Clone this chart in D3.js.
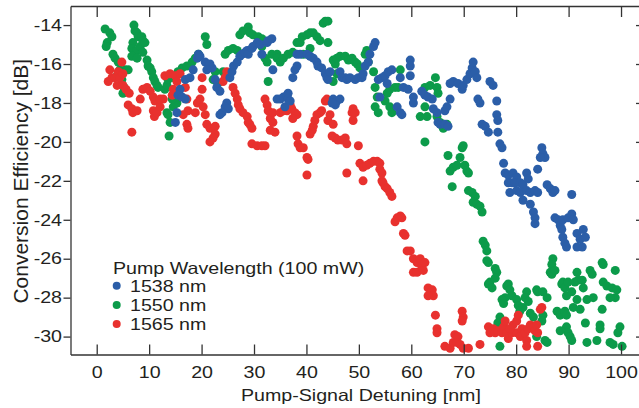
<!DOCTYPE html>
<html>
<head>
<meta charset="utf-8">
<script src="https://cdn.jsdelivr.net/npm/d3@7"></script>
<style>
  html, body { margin: 0; padding: 0; background: #ffffff; }
  svg { display: block; }
  text { font-family: "Liberation Sans", Arial, Helvetica, sans-serif; fill: #231f20; }
</style>
</head>
<body>
<svg id="chart" width="639" height="408"></svg>
<script>
// ---------- data ----------
const seriesNames = ["1538 nm", "1550 nm", "1565 nm"];
const seriesColors = ["#2b5ea8", "#0c9b4a", "#e8312e"];
const legendTitle = "Pump Wavelength (100 mW)";
const xTicks = [0, 10, 20, 30, 40, 50, 60, 70, 80, 90, 100];
const yTicks = [-30, -28, -26, -24, -22, -20, -18, -16, -14];
const xLabel = "Pump-Signal Detuning [nm]";
const yLabel = "Conversion Efficiency [dB]";

// [detuning nm, efficiency dB]
const data1550 = [
[1.6,-14.2],[2.5,-14.4],[2.9,-14.6],[2,-14.9],[1.8,-15.1],[3.1,-15.5],[3.5,-15.7],[4.1,-15.9],[4.4,-16.3],[3.9,-16.6],[4.8,-16.8],[5.2,-17.2],[5,-17.5],
[7.1,-14],[7.3,-14.3],[7.7,-14.4],[7.9,-14.6],[8.6,-14.6],[8.8,-14.8],[6.9,-14.9],[6.7,-15.2],[7.7,-15.3],[8.3,-15.1],[8.8,-15.4],[9.2,-14.9],[6.7,-15.6],[7.7,-15.7],[9.6,-15.8],[9.8,-16.1],[10.2,-16.2],[10.5,-16.4],[10.8,-16.7],[11.1,-16.9],[11.5,-17.1],[11.7,-17.2],[13,-17.3],[13.4,-17.1],[13.6,-16.8],[14.6,-16.7],[15.5,-16.4],[16.3,-16.2],[17.2,-16.1],[18.2,-15.9],[18.8,-15.7],[19.4,-15.5],
[13.4,-18.5],[13.6,-18.6],[14,-19],[13.8,-19.7],[14.6,-18.2],[15.3,-18],[14.4,-17.8],[5.4,-16.3],[6,-16.3],
[20.7,-14.6],[21,-15],[22.6,-16.4],[22.2,-16.8],[23.1,-17],[24.1,-16.4],[24.5,-15.5],[25.1,-15.3],[26,-15.2],[26.8,-15.3],[27.3,-14.5],[27.9,-14.3],[28.9,-14.1],[29.2,-14.4],[29.8,-14.5],[30.8,-14.6],[31.5,-14.7],[31.8,-14.8],[31.5,-15.1],[32.1,-15.7],[32.5,-15.9],[32.7,-16.9],[33.4,-15.5],[34.4,-15.5],[34.4,-15.7],[35,-15.9],[35.6,-15.7],[36.5,-15.5],[37.4,-15.4],[38.2,-14.9],[38.8,-14.9],[39.2,-14.6],[40.1,-14.5],[40.7,-14.4],[41.3,-14.4],[42,-14.6],[42.6,-14.8],[43.2,-13.9],[43.6,-13.8],[44.1,-13.8],[44.1,-14.9],[40.7,-15.2],[40.3,-15.5],[39.4,-15.5],
[45.1,-15.8],[45.5,-16],[45.8,-15.7],[46.4,-15.6],[47.4,-15.6],[48,-15.8],[48.7,-15.7],[49.3,-15.9],[49.7,-16],[50.2,-16.2],[45.8,-16.5],[45.1,-16.9],[51.5,-15.3],[51.2,-15.5],[51.8,-15.9],[52.8,-16.4],[53.1,-17.2],[53.5,-17.7],[53.1,-18.2],[53.7,-18.5],[55,-17.9],[55.4,-17.5],[55.9,-17.3],[56.9,-17.2],[57.5,-17.2],[57.9,-16.3],[55.9,-18.2],[56.3,-18.5],[61.7,-18.7],
[62.6,-17.2],[63.6,-17.1],[64.6,-16.7],[64.9,-17.2],[65.1,-17.5],[62.6,-18.2],[63,-18.7],[64.9,-18.7],[65.5,-19],[66.1,-19.3],[66.8,-19.1],[62.6,-20],[67,-20.7],[67.4,-21.5],[68,-21.3],[68.7,-21.2],[69.3,-20.8],[69.7,-20.3],[69.9,-20.2],[70.2,-21.2],[70.6,-21.5],[70.9,-21.6],[67.8,-22.3],[70.9,-22.5],[71.6,-22.6],[72.2,-22.8],
[71.8,-23.1],[72.5,-23.2],[73.1,-23.3],[73.5,-23.6],[73.7,-25.1],[74.1,-25.3],[74.4,-25.6],[74.4,-26.1],[74.7,-26.2],[76,-26.5],[76.3,-26.7],[76,-27],[75,-27.2],[74.7,-27.3],[75.4,-27.5],[78.5,-27.3],[78.2,-27.4],[78.8,-27.6],[79.2,-27.9],[77.9,-28],[77.3,-28.1],[77.6,-28.3],[80.1,-28.1],[80.4,-28.4],[81.3,-28.5],[82,-27.7],[81.7,-28],[82.3,-28.2],[80.7,-28.7],[76.9,-29],[76.5,-29.3],[76.9,-30.5],[82.7,-28.8],[83.3,-29],[83.9,-27.6],[84.1,-27.7],[85.1,-27.7],[85.9,-28],[85.1,-28.9],[84.9,-29.2],[85.5,-30.2],[85.9,-30.3],[83.9,-30],[87,-26],[86.8,-26.3],[86.5,-26.7],[86.8,-26.8],[87.4,-26.6],[87.8,-28.7],[88.4,-28.9],[89.3,-28.7],[89.6,-28.9],[88.7,-27.3],[88.9,-27.2],[89.3,-27.5],[89.9,-27.2],[89.6,-27.9],[90.6,-27.7],[91.2,-27.2],[91.6,-26.7],[91.8,-27.1],[92.6,-27.1],[92.8,-27.5],[93.5,-28.1],[91.6,-28.1],[90.9,-28.5],[92.2,-28.6],[89.6,-29.5],[89.9,-29.8],[90.3,-30],[90.6,-30.2],[88.4,-29.7],[93.2,-29.3],[93.5,-30.3],[94.1,-26.6],[94.5,-26.8],[94.7,-28],[95.4,-30.2],[96,-29.4],[96.4,-28.6],[96,-29.6],[96.4,-26.2],[96.6,-26.3],[96.6,-27.2],[97.3,-27.4],[98.3,-27.5],[98.9,-26.6],[99.2,-27.6],[98.9,-28],[97.9,-28],[97.9,-30.3],[98.5,-30.4],[99.8,-29.5],[99.4,-29.8],[100.2,-30.5]
];

const data1565 = [
[4.8,-15.9],[2.5,-16.3],[2.9,-16.7],[2.2,-16.9],[3.5,-16.7],[4.1,-16.4],[4.4,-16.7],[5,-16.5],[3.9,-17.1],[5,-17.1],[5.6,-17.3],[6.2,-17.5],[6.7,-19.5],[6,-18.1],[6.7,-18.3],[6.9,-18.5],[7.7,-18.4],[8.3,-17.8],[8.8,-17.3],[9.6,-17.2],[10.2,-17.4],[10.8,-17.7],[11.1,-17.9],[10.8,-18.4],[11,-18.7],[11.5,-18.5],[12.1,-18.2],[12.7,-17.8],[12.1,-17.8],[13,-16.6],[14,-16.5],[15,-16.6],[15.9,-16.5],[15.3,-16.9],[14.6,-17.3],[14.4,-17.6],[16.9,-17.2],[17.2,-17.8],[17.4,-18.4],[16.5,-18.6],[17.2,-19.1],[17.4,-19.3],[18.8,-18.5],[19.2,-18],
[20.1,-16.7],[20.1,-17.3],[19.7,-17.8],[20.3,-18.2],[20.7,-18.6],[21,-19.1],[21.6,-19.3],[22.6,-19.2],[22.6,-19.6],[22.2,-19.8],[21.6,-20],[24.5,-16.7],[24.1,-16.9],[24.8,-16.4],[26,-17.2],[26.4,-17.5],[26.8,-17.8],[27,-18.1],[27.3,-18.3],[27.9,-18.5],[28.7,-18.7],[28.9,-19],[29.2,-19.1],[29.6,-19.3],[29.6,-20.1],[30.6,-20.2],[31.5,-20.2],[32.1,-20.2],[32.1,-17.8],[32.5,-18.1],[32.7,-18.4],[33.1,-18.8],[33.6,-19],[34,-19.5],[33.1,-19.4],[33.6,-18.5],[35,-18.5],[35.6,-18.4],[36.3,-18.4],[36.9,-18.1],[37.2,-18.3],[37.8,-18.5],[38.2,-18.6],[37.4,-18.8],[38.2,-19.7],[38.4,-20.1],[38.8,-20.3],[39.4,-20.3],[40.1,-20.8],[40.3,-20.9],[40.1,-21.7],[40.7,-19.6],[41.1,-19.4],[41.3,-19.2],[41.6,-18.9],[42,-18.6],[42.6,-18.5],[42.9,-18.4],[43.6,-17.9],[43.9,-17.8],[44.1,-18.9],[44.5,-18.6],[45.1,-19.1],[44.9,-19.7],[45.5,-19.8],[46,-19.9],[46.8,-19.9],[47.4,-19.8],[47.7,-20.1],[48.7,-18.5],[48.9,-18.3],[49.3,-18.5],[48.9,-18.9],[49.9,-20.2],[47.7,-21.6],[50.2,-21.1],[50.8,-21.3],[51.5,-21.2],[52.1,-21.1],[52.8,-21],[53.5,-21],[54,-21.1],[54,-21.4],[54.4,-21.6],[50.8,-22],[54.4,-22],[54.6,-22.1],[55,-22.3],[55.4,-22.4],[55.9,-22.6],[56.3,-22.8],
[57.9,-23.8],[58.2,-23.9],[57.3,-23.9],[56.9,-24.1],[58.5,-24.7],[58.8,-24.8],[59.2,-25.6],[59.8,-25.6],[60.4,-26],[61.1,-26.2],[60.4,-26.7],[61.1,-26.7],
[61.7,-26],[62,-26.4],[62.3,-26.6],[62.6,-26.2],[63.2,-27.5],[64,-27.6],[64.2,-27.9],[63.2,-27.9],[64.6,-28.9],[64.9,-29.6],[64.9,-29.8],[66.4,-30.5],[67.4,-30.6],[68,-30.3],[68.3,-29.9],[68.9,-30],[68.7,-30.3],[69.3,-30.4],[69.9,-30.6],[70.9,-30.6],[69.7,-28.7],[69.9,-29],[69.7,-29.2],[73.1,-30.4],[74.7,-29.5],[75,-29.8],[75.6,-29.6],[76,-29.8],[76.5,-29.7],[77.3,-29.8],[77.6,-29.5],[77.9,-29.2],[78.2,-29.8],[78.5,-30.1],[79.2,-29.8],[79.4,-29.4],[80.1,-29.2],[80.4,-28.9],[80.1,-29.8],[80.8,-30],[81.1,-29.6],[82,-30.2],[81.7,-29.8],[82.3,-29.6],[82.7,-29.4],[83.3,-29.5],[83.6,-29.7],[83.9,-29.4],[84.9,-28.5],[84.6,-28.6],[84.1,-29.8],[82,-30.5],[78.8,-29.6],[84.1,-30.5]
];

const data1538 = [
[15.9,-17.3],[15.5,-17.6],[16.3,-17.7],[16.9,-17.8],[15.3,-18.5],[15,-19],[16.9,-16.8],[17.8,-16.7],[18.4,-16.3],[19.2,-15.7],[19.4,-15.5],
[19.7,-15.6],[20.7,-15.9],[21.6,-16],[22,-16.2],[21,-16.3],[22.6,-16.8],[22.9,-17.2],[23.5,-17.4],[24.8,-18],[24.5,-18.2],[25.1,-18.3],[23.9,-18.5],[23.5,-18.6],[25.4,-16.7],[25.8,-16.4],[26.1,-16.1],[26.8,-15.9],[27.3,-15.6],[27.7,-15.5],[28.3,-15.4],[28.7,-15.3],[28.9,-15.5],[29.6,-15.2],[29.8,-15.1],[30.6,-14.9],[31.2,-15],[31.5,-15.5],[32.5,-14.9],[32.7,-14.8],[33.4,-14.7],[33.6,-16.3],[34.4,-17.8],[35,-17.8],[35.6,-17.7],[36.3,-17.6],[36.5,-17.5],[36.5,-17.8],[35.9,-18.2],[36.9,-17.9],[37.4,-16.7],[37.8,-16.3],[38.2,-16.1],[38.2,-15.5],[38.8,-15.5],[40.1,-15.5],[40.7,-15.6],[41.3,-15.7],[42,-15.9],[42.2,-16.1],[42.9,-16.2],[43.6,-16.5],[43.9,-16.7],[44.1,-16.8],[44.5,-16.4],[45.1,-17.8],[45.8,-17.9],[46.4,-17.8],[45.5,-18.1],[44.9,-18],[46.4,-16.4],[46.8,-16.7],[47.4,-16.7],[47.7,-16.8],[48.3,-16.7],[49.3,-16.8],[49.9,-16.7],[50.6,-16.7],[50.8,-16.5],[51.2,-16.1],[51.8,-15.9],[52.1,-15.5],[52.8,-15.1],[53.1,-14.9],[53.7,-16.8],[54.4,-16.7],[55,-16.6],[55.6,-16.4],[56.3,-16.3],[55.4,-17],[54,-17.7],[57.3,-18.2],[57.9,-18.5],[58.2,-18.6],[57.9,-16.7],[58.5,-17.2],[59.4,-17.3],[59.8,-15.8],[59.8,-16.1],[59.8,-16.6],[60.4,-17.7],[60.4,-18],
[62,-17.4],[62.6,-17.6],[63.2,-17.7],[64,-17.8],[64.2,-18.3],[64.9,-18.5],[65.1,-19],[65.5,-19.1],[66.4,-19.1],[67,-19.2],[66.4,-18.4],[66.8,-18.2],[67.4,-17.8],[67.4,-17],[68,-16.9],[68.9,-17],[69.7,-17.3],[69.9,-17.1],[70.6,-16.8],[71.2,-16.5],[71.6,-16.2],[71.8,-15.9],[72.2,-16.4],[72.5,-16.7],[72.7,-17.8],[73.1,-18],[75,-16.9],[75.6,-17.1],[76.3,-17.9],[76.3,-18.6],[76.5,-18.9],[73.5,-19.1],[74.1,-19.2],[74.7,-19.5],[76.5,-19.5],[76.9,-20.1],[77.3,-20.3],[77.6,-21.1],[77.9,-21.6],[78.5,-21.7],[79.4,-21.6],[80.1,-21.8],[78.5,-22.1],[79.2,-22.1],[79.8,-22.1],[80.8,-22.1],[81.3,-22.2],[82,-21.6],[82.3,-21.9],[78.8,-22.6],[80.1,-22.5],[80.8,-22.6],[82,-22.5],[82.7,-22.6],[83.6,-22.5],[84.1,-22.6],[84.1,-21.4],[84.9,-20.3],[85.1,-20.6],[85.5,-20.8],[84.6,-20.8],[85.9,-22.2],[86.5,-22.4],[87,-22.6],[87.4,-22.5],[90.6,-22.7],
[81.3,-23],[82.7,-23.2],[83.3,-23.6],[83.6,-23.9],[83.6,-24.2],[87.4,-23.9],[88,-24],[88.4,-24.3],[88.7,-24.5],[88.9,-24.9],[89.3,-25.2],[89.6,-25.4],[88.9,-24],[89.9,-23.9],[90.6,-23.7],[90.9,-24],[91.6,-24.7],[92.2,-25],[92.6,-25.4],[92.8,-24.5],[93.2,-24.9],[91.6,-25.4]
];

// ---------- layout ----------
const svg = d3.select("#chart");
const L = 70.5, R = 642, T = 6, B = 354.5;
const SX = 1.19;           // horizontal text stretch seen in reference
const FS = 16.5;

const x = d3.scaleLinear().domain([-5, 104]).range([L, R]);
const y = d3.scaleLinear().domain([-30.92, -13.02]).range([B, T]);

// draw points: green bottom, red, blue on top
const drawOrder = [
  {d: data1550, c: seriesColors[1]},
  {d: data1565, c: seriesColors[2]},
  {d: data1538, c: seriesColors[0]}
];
const pts = svg.append("g");
drawOrder.forEach(s => {
  pts.append("g").selectAll("circle").data(s.d).join("circle")
    .attr("cx", d => x(d[0])).attr("cy", d => y(d[1]))
    .attr("r", 4.5).attr("fill", s.c);
});

// axes
function styleAxis(g) {
  g.selectAll("path.domain").attr("stroke", "#333").attr("stroke-width", 1.3);
  g.selectAll(".tick line").attr("stroke", "#333").attr("stroke-width", 1.3);
}
const gB = svg.append("g").attr("transform", `translate(0,${B})`)
  .call(d3.axisBottom(x).tickValues(xTicks).tickSizeInner(-10).tickSizeOuter(0).tickPadding(12).tickFormat(d => String(d)));
gB.selectAll("text").attr("font-size", FS).attr("fill", "#231f20")
  .attr("transform", `scale(${SX},1)`).style("font-family", '"Liberation Sans", Arial, sans-serif');
styleAxis(gB);

const gT = svg.append("g").attr("transform", `translate(0,${T})`)
  .call(d3.axisTop(x).tickValues(xTicks).tickSizeInner(-11).tickSizeOuter(0).tickFormat(""));
styleAxis(gT);

const gL = svg.append("g").attr("transform", `translate(${L},0)`)
  .call(d3.axisLeft(y).tickValues(yTicks).tickSizeInner(7).tickSizeOuter(0).tickFormat(d => String(d)));
gL.selectAll("text").attr("x", 0).attr("font-size", FS).attr("fill", "#231f20")
  .attr("transform", `translate(-8.5,0) scale(${SX},1)`).style("font-family", '"Liberation Sans", Arial, sans-serif');
styleAxis(gL);

const gR = svg.append("g").attr("transform", `translate(${R},0)`)
  .call(d3.axisRight(y).tickValues(yTicks).tickSizeInner(-6).tickSizeOuter(0).tickFormat(""));
styleAxis(gR);

// axis titles
svg.append("text")
  .attr("transform", `translate(${(x(0) + x(100)) / 2 + 2},401) scale(${SX},1)`)
  .attr("text-anchor", "middle").attr("font-size", FS).text(xLabel);

svg.append("text")
  .attr("transform", `translate(28,${(T + B) / 2 + 1}) rotate(-90)`)
  .attr("text-anchor", "middle").attr("font-size", 21).text(yLabel);

// legend
const lg = svg.append("g");
lg.append("text").attr("transform", `translate(113,273.5) scale(${SX},1)`)
  .attr("font-size", FS).text(legendTitle);
seriesNames.forEach((n, i) => {
  const cy = 285.7 + i * 19.2;
  lg.append("circle").attr("cx", 116.7).attr("cy", cy).attr("r", 4).attr("fill", seriesColors[i]);
  lg.append("text").attr("transform", `translate(130,${cy + 6}) scale(${SX},1)`)
    .attr("font-size", FS).text(n);
});
</script>
</body>
</html>
